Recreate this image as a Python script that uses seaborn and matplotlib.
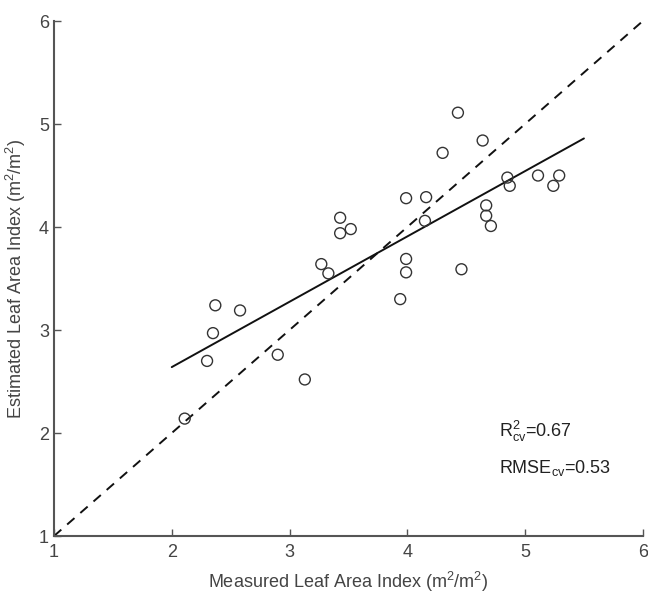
import matplotlib
matplotlib.use("Agg")
import matplotlib.pyplot as plt
import seaborn as sns
import pandas as pd

# Data
measured = [2.11, 2.30, 2.35, 2.37, 2.58, 2.90, 3.13, 3.27, 3.33, 3.43, 3.43, 3.52,
            3.94, 3.99, 3.99, 3.99, 4.15, 4.16, 4.30, 4.43, 4.46, 4.64, 4.67, 4.67,
            4.71, 4.85, 4.87, 5.11, 5.24, 5.29]
estimated = [2.14, 2.70, 2.97, 3.24, 3.19, 2.76, 2.52, 3.64, 3.55, 4.09, 3.94, 3.98,
             3.30, 4.28, 3.69, 3.56, 4.06, 4.29, 4.72, 5.11, 3.59, 4.84, 4.21, 4.11,
             4.01, 4.48, 4.40, 4.50, 4.40, 4.50]
fit_x = [2.0, 5.5]
fit_y = [2.64, 4.86]
one_to_one = [1, 6]
ticks = [1, 2, 3, 4, 5, 6]
x_label = "Measured Leaf Area Index (m$^2$/m$^2$)"
y_label = "Estimated Leaf Area Index (m$^2$/m$^2$)"
r2_text = "R$^2_{\\mathrm{cv}}$=0.67"
rmse_text = "RMSE$_{\\mathrm{cv}}$=0.53"

sns.set_theme(style="ticks")
plt.rcParams["font.family"] = ["Liberation Sans", "DejaVu Sans"]
plt.rcParams["mathtext.fontset"] = "custom"
plt.rcParams["mathtext.rm"] = "Liberation Sans"
plt.rcParams["mathtext.it"] = "Liberation Sans"

fig = plt.figure(figsize=(6.48, 5.94), dpi=100)
ax = fig.add_axes([0.0833, 0.0976, 0.9087, 0.867])

df = pd.DataFrame({"measured": measured, "estimated": estimated})
line_df = pd.DataFrame({"x": fit_x, "y": fit_y})
ref_df = pd.DataFrame({"x": one_to_one, "y": one_to_one})

sns.lineplot(data=ref_df, x="x", y="y", ax=ax, color="#111111", lw=1.4,
             linestyle=(0, (5, 4)))
sns.lineplot(data=line_df, x="x", y="y", ax=ax, color="#111111", lw=1.4)
sns.scatterplot(data=df, x="measured", y="estimated", ax=ax, marker="o",
                s=62, facecolor="none", edgecolor="#333333", linewidth=1.0, zorder=3)

ax.set_xlim(1, 6)
ax.set_ylim(1, 6)
ax.set_xticks(ticks)
ax.set_yticks(ticks)
ax.set_xticklabels([str(t) for t in ticks])
ax.set_yticklabels([str(t) for t in ticks])
ax.tick_params(direction="in", length=5, width=1, colors="#555555",
               labelcolor="#444444", labelsize=13)
ax.tick_params(axis="x", pad=6)
for side in ["top", "right"]:
    ax.spines[side].set_visible(False)
for side in ["left", "bottom"]:
    ax.spines[side].set_color("#555555")
    ax.spines[side].set_linewidth(1.5)

ax.set_xlabel(x_label, fontsize=13, color="#444444", labelpad=6)
ax.set_ylabel(y_label, fontsize=13, color="#444444", labelpad=8)

ax.text(4.78, 1.96, r2_text, fontsize=13, color="#222222")
ax.text(4.78, 1.61, rmse_text, fontsize=13, color="#222222")

fig.savefig("out.png", dpi=100)
